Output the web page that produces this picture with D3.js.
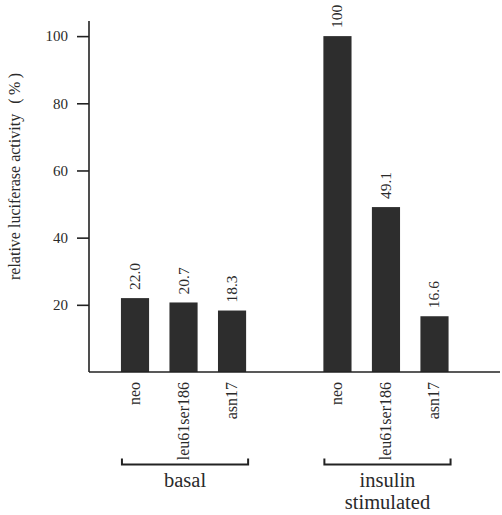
<!DOCTYPE html>
<meta charset="utf-8">
<style>
 body { margin: 0; background: #fff; }
 svg text { font-family: "Liberation Serif", "Times New Roman", "DejaVu Serif", serif; fill: #2a2a2a; }
 .axis path, .axis line { stroke: #222; stroke-width: 1.6px; }
 .axis text { font-size: 15px; }
 .bar { fill: #2d2d2d; }
 .bracket { fill: none; stroke: #222; stroke-width: 2px; }
</style>
<svg class="chart"></svg>
<script src="https://cdn.jsdelivr.net/npm/d3@7/dist/d3.min.js"></script>
<script>
 var width = 502, height = 515;

 // data
 var groups = ["basal", "insulin stimulated"];
 var variants = ["neo", "leu61ser186", "asn17"];
 var basalValues = [22.0, 20.7, 18.3];
 var insulinValues = [100, 49.1, 16.6];
 var basalLabels = ["22.0", "20.7", "18.3"];
 var insulinLabels = ["100", "49.1", "16.6"];
 var yTicks = [20, 40, 60, 80, 100];

 var rows = [];
 variants.forEach(function(v, i) {
     rows.push({group: groups[0], variant: v, value: basalValues[i], label: basalLabels[i]});
     rows.push({group: groups[1], variant: v, value: insulinValues[i], label: insulinLabels[i]});
 });

 var svg = d3.select(".chart").attr("width", width).attr("height", height);

 var x0 = d3.scaleBand().domain(groups).range([110.75, 458.75]).paddingInner(0.281).paddingOuter(0);
 var x1 = d3.scaleBand().domain(variants).range([0, x0.bandwidth()]).paddingInner(0.42).paddingOuter(0.21);
 var y = d3.scaleLinear().domain([0, 104.5]).range([372, 21]);

 // bars
 svg.selectAll(".bar").data(rows).enter()
     .append("rect")
     .attr("class", "bar")
     .attr("x", function(d) { return x0(d.group) + x1(d.variant); })
     .attr("width", x1.bandwidth())
     .attr("y", function(d) { return y(d.value); })
     .attr("height", function(d) { return y(0) - y(d.value); });

 // value labels above bars
 svg.selectAll(".val").data(rows).enter()
     .append("text")
     .attr("class", "val")
     .attr("transform", function(d) {
         var cx = x0(d.group) + x1(d.variant) + x1.bandwidth() / 2;
         return "translate(" + (cx + 5) + "," + (y(d.value) - 8) + ") rotate(-90)";
     })
     .style("font-size", "15.5px")
     .text(function(d) { return d.label; });

 // category labels below axis
 svg.selectAll(".cat").data(rows).enter()
     .append("text")
     .attr("class", "cat")
     .attr("text-anchor", "end")
     .attr("transform", function(d) {
         var cx = x0(d.group) + x1(d.variant) + x1.bandwidth() / 2;
         return "translate(" + (cx + 5) + "," + (y(0) + 10) + ") rotate(-90)";
     })
     .style("font-size", "16px")
     .text(function(d) { return d.variant; });

 // y axis
 var yAxis = svg.append("g").attr("class", "axis")
     .attr("transform", "translate(89,0)")
     .call(d3.axisLeft(y).tickValues(yTicks).tickSize(12).tickSizeOuter(0).tickPadding(9));
 yAxis.select(".domain").attr("d", "M0," + y(104.5) + "V" + y(0));
 yAxis.attr("font-family", null);

 // x baseline
 svg.append("line")
     .attr("x1", 89).attr("x2", 500)
     .attr("y1", y(0)).attr("y2", y(0))
     .attr("stroke", "#222").attr("stroke-width", 1.6);

 var title = svg.append("text")
     .attr("transform", "translate(20,280) rotate(-90)")
     .style("font-size", "16px");
 title.append("tspan").text("relative luciferase activity");
 title.append("tspan").attr("dx", 10).style("letter-spacing", "3.5px").text("(%)");

 // group brackets
 var by = 464.5;
 groups.forEach(function(g) {
     var left = x0(g) + x1(variants[0]) + 1;
     var right = x0(g) + x1(variants[variants.length - 1]) + x1.bandwidth() + 2;
     svg.append("path").attr("class", "bracket")
         .attr("d", "M" + left + "," + (by - 6) + "V" + by + "H" + right + "V" + (by - 6));
     var words = g.split(" ");
     var t = svg.append("text")
         .attr("text-anchor", "middle")
         .style("font-size", "20.5px");
     words.forEach(function(w, i) {
         t.append("tspan")
             .attr("x", (left + right) / 2)
             .attr("y", 487 + i * 22)
             .text(w);
     });
 });
</script>
